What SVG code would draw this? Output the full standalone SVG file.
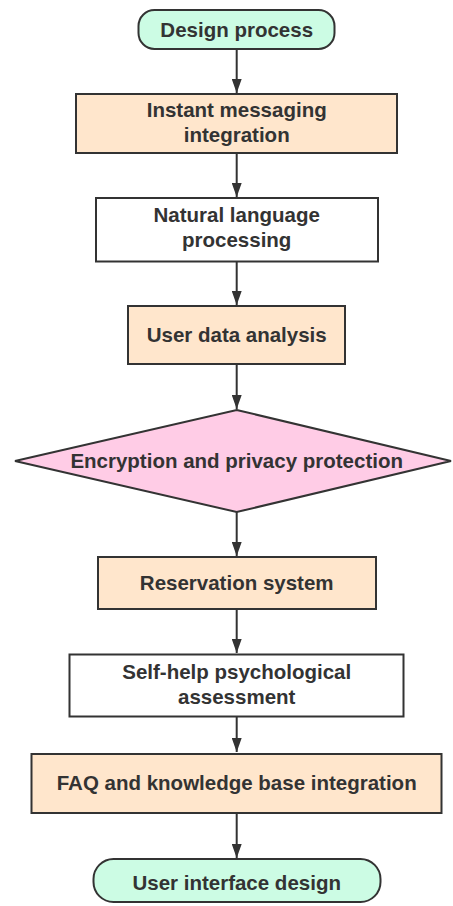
<svg xmlns="http://www.w3.org/2000/svg" width="453" height="906" viewBox="0 0 453 906">
<style>
.n{stroke:#333;stroke-width:2}
.term{fill:#ccfce4}
.proc{fill:#ffe6cc}
.plain{fill:#fff}
.dec{fill:#ffcce6}
text{font-family:"Liberation Sans",Arial,sans-serif;font-weight:bold;font-size:20.5px;fill:#333;text-anchor:middle}
.c line{stroke:#333;stroke-width:2}
</style>
<defs>
<marker id="ah" markerWidth="14" markerHeight="10" refX="14" refY="5" orient="auto" markerUnits="userSpaceOnUse" viewBox="0 0 14 10">
<path d="M0,0 L14,5 L0,10 Z" fill="#333"/>
</marker>
</defs>
<rect width="453" height="906" fill="#fff"/>
<g class="c">
<line x1="236.7" y1="49" x2="236.7" y2="93" marker-end="url(#ah)"/>
<line x1="236.7" y1="153" x2="236.7" y2="197" marker-end="url(#ah)"/>
<line x1="236.7" y1="262" x2="236.7" y2="305" marker-end="url(#ah)"/>
<line x1="236.7" y1="364" x2="236.7" y2="409" marker-end="url(#ah)"/>
<line x1="236.7" y1="512" x2="236.7" y2="556" marker-end="url(#ah)"/>
<line x1="236.7" y1="609" x2="236.7" y2="653" marker-end="url(#ah)"/>
<line x1="236.7" y1="717" x2="236.7" y2="752" marker-end="url(#ah)"/>
<line x1="236.7" y1="813" x2="236.7" y2="858" marker-end="url(#ah)"/>
</g>
<g id="start">
<rect class="n term" x="138.5" y="10" width="196" height="39" rx="16"/>
<text x="236.7" y="36.5">Design process</text>
</g>
<g id="instant">
<rect class="n proc" x="76" y="94" width="321" height="59"/>
<text x="236.7" y="117">Instant messaging</text>
<text x="236.7" y="142">integration</text>
</g>
<g id="nlp">
<rect class="n plain" x="96" y="198" width="282" height="63.5"/>
<text x="236.7" y="222">Natural language</text>
<text x="236.7" y="247">processing</text>
</g>
<g id="uda">
<rect class="n proc" x="128" y="306" width="217" height="58"/>
<text x="236.7" y="342">User data analysis</text>
</g>
<g id="enc">
<polygon class="n dec" points="236.7,410 451,461 236.7,512 15,461"/>
<text x="236.7" y="468">Encryption and privacy protection</text>
</g>
<g id="res">
<rect class="n proc" x="98" y="557" width="278" height="52"/>
<text x="236.7" y="590">Reservation system</text>
</g>
<g id="self">
<rect class="n plain" x="69.5" y="654.5" width="334" height="62"/>
<text x="236.7" y="678.5">Self-help psychological</text>
<text x="236.7" y="704">assessment</text>
</g>
<g id="faq">
<rect class="n proc" x="31.5" y="754" width="410" height="59"/>
<text x="236.7" y="790">FAQ and knowledge base integration</text>
</g>
<g id="end">
<rect class="n term" x="93.5" y="859" width="287" height="43" rx="20"/>
<text x="236.7" y="890">User interface design</text>
</g>
</svg>
